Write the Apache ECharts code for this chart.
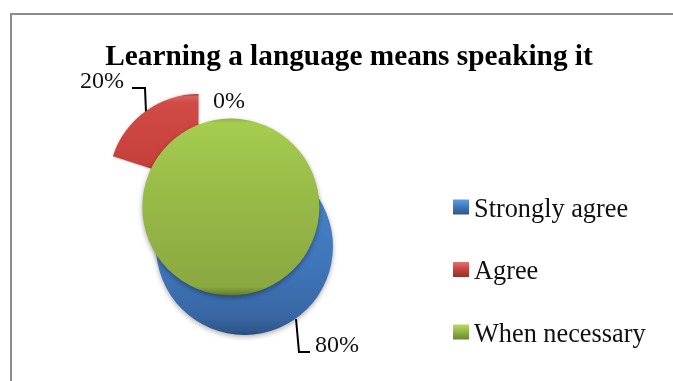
<!DOCTYPE html>
<html>
<head>
<meta charset="utf-8">
<style>
	html, body { margin: 0; padding: 0; background: #fff; }
	#chart { width: 673px; height: 381px; }
</style>
<script src="https://cdn.jsdelivr.net/npm/echarts@6/dist/echarts.min.js"></script>
</head>
<body>
<div id="chart"></div>
<script>
var chartTitle = 'Learning a language means speaking it';
var categories = ['Strongly agree', 'Agree', 'When necessary'];
var values = [80, 20, 0];

var serifFont = '"Liberation Serif", "Times New Roman", serif';
var chart = echarts.init(document.getElementById('chart'));

function vertical(stops) {
	return new echarts.graphic.LinearGradient(0, 0, 0, 1, stops.map(function(s) {
		return { offset: s[0], color: s[1] };
	}));
}

var blueFill = vertical([[0, '#4a86cc'], [0.6, '#3f76ba'], [0.9, '#3866a3'], [0.98, '#2f5789'], [1, '#244672']]);
var redFill = vertical([[0, '#a83432'], [0.03, '#d9615d'], [0.1, '#d04a46'], [0.75, '#c8403c'], [1, '#a83432']]);
var greenFill = vertical([[0, '#8fb040'], [0.025, '#a6cc4f'], [0.3, '#9cc04a'], [0.95, '#8aa840'], [0.99, '#6c8531'], [1, '#566a26']]);
var blueLegend = vertical([[0, '#5b9fe6'], [0.5, '#3f76ba'], [1, '#2f5789']]);
var redLegend = vertical([[0, '#e8706c'], [0.5, '#c5423e'], [1, '#94302d']]);
var greenLegend = vertical([[0, '#b6dc5c'], [0.5, '#92b344'], [1, '#6c8531']]);
var legendFills = [blueLegend, redLegend, greenLegend];

// 每个扇区单独一个 series，才能分别错开圆心
var blank = { color: 'rgba(0,0,0,0)', borderWidth: 0, shadowBlur: 0 };

function pieLabel(x, y, line) {
	return function() {
		var layout = { x: x, y: y, align: 'center', verticalAlign: 'middle' };
		if (line) {
			layout.labelLinePoints = line;
		}
		return layout;
	};
}

function pieSeries(center, radius, data, layout, z) {
	return {
		type: 'pie',
		center: center,
		radius: radius,
		startAngle: 90,
		clockwise: true,
		z: z,
		animation: false,
		silent: true,
		stillShowZeroSum: true,
		percentPrecision: 0,
		avoidLabelOverlap: false,
		label: {
			show: true,
			position: 'outside',
			formatter: '{d}%',
			color: '#111',
			fontFamily: serifFont,
			fontSize: 24
		},
		labelLine: {
			show: true,
			smooth: false,
			lineStyle: { color: '#000', width: 2 }
		},
		labelLayout: layout,
		data: data
	};
}

var option = {
	backgroundColor: '#fff',
	title: {
		text: chartTitle,
		left: 344,
		top: 38,
		textAlign: 'center',
		textStyle: {
			color: '#000',
			fontFamily: serifFont,
			fontSize: 29.3,
			fontWeight: 'bold'
		}
	},
	legend: {
		orient: 'vertical',
		left: 453,
		top: 197,
		padding: 0,
		itemWidth: 16,
		itemHeight: 15,
		itemGap: 36.5,
		icon: 'rect',
		selectedMode: false,
		data: categories.map(function(name, i) {
			return { name: name, itemStyle: { color: legendFills[i] } };
		}),
		formatter: '{a|{name}}',
		textStyle: {
			rich: {
				a: {
					color: '#111',
					fontFamily: serifFont,
					fontSize: 26.3,
					padding: [6, 0, 0, 0]
				}
			}
		}
	},
	graphic: [{
		type: 'polyline',
		silent: true,
		shape: { points: [[11, 381], [11, 14], [673, 14]] },
		style: { fill: null, stroke: '#8c8c8c', lineWidth: 2 }
	}],
	series: [
		pieSeries([244.5, 246.5], 88.5, [
			{
				name: categories[0],
				value: values[0],
				itemStyle: { color: blueFill, shadowBlur: 5, shadowColor: 'rgba(0,0,0,0.3)', shadowOffsetY: 2 },
				label: { show: true },
				labelLine: { show: true }
			},
			{
				name: '',
				value: values[1],
				itemStyle: blank,
				label: { show: false },
				labelLine: { show: false }
			}
		], pieLabel(337, 345.5, [[296, 319], [299, 352], [310, 352]]), 2),
		pieSeries([198.5, 184], 90, [
			{
				name: '',
				value: values[0],
				itemStyle: blank,
				label: { show: false },
				labelLine: { show: false }
			},
			{
				name: categories[1],
				value: values[1],
				itemStyle: { color: redFill, shadowBlur: 3, shadowColor: 'rgba(0,0,0,0.25)' },
				label: { show: true },
				labelLine: { show: true }
			}
		], pieLabel(102, 82, [[146, 112], [145, 88], [132, 88]]), 3),
		// 值为 0 时靠 stillShowZeroSum 画成整圆
		pieSeries([230.8, 207], 88.5, [
			{
				name: categories[2],
				value: values[2],
				itemStyle: { color: greenFill, shadowBlur: 5, shadowColor: 'rgba(0,0,0,0.35)', shadowOffsetY: 2 },
				label: { show: true },
				labelLine: { show: false }
			}
		], pieLabel(229, 102), 4)
	]
};
chart.setOption(option);
</script>
</body>
</html>
